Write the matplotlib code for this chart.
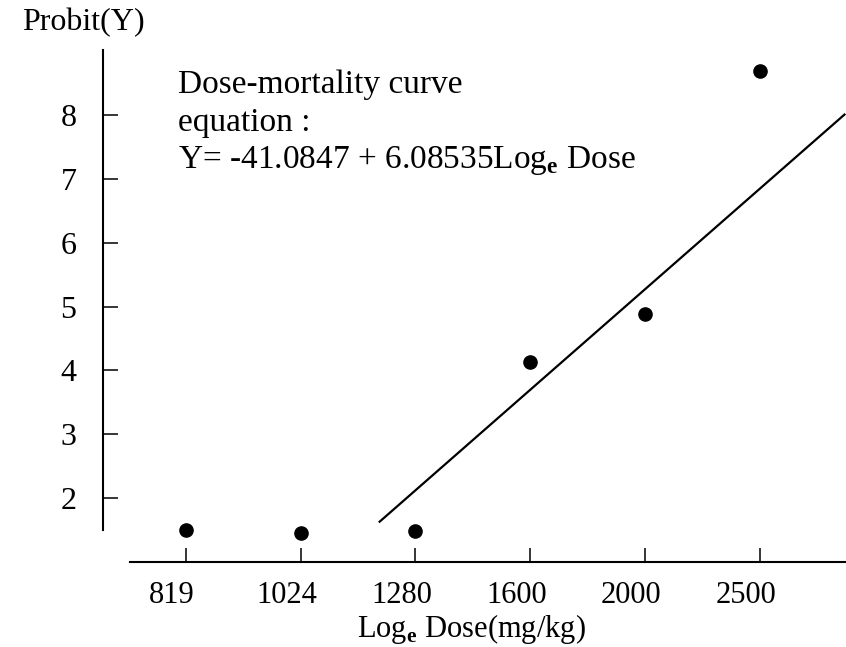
import matplotlib
matplotlib.use("Agg")
import matplotlib.pyplot as plt
from matplotlib.transforms import ScaledTranslation

plt.rcParams['font.family'] = ['Liberation Serif', 'DejaVu Serif']
plt.rcParams['mathtext.fontset'] = 'custom'
plt.rcParams['mathtext.rm'] = 'Liberation Serif'
plt.rcParams['mathtext.bf'] = 'Liberation Serif:bold'

# ---- data ----
doses = [819, 1024, 1280, 1600, 2000, 2500]
probits = [1.50, 1.46, 1.48, 4.14, 4.88, 8.69]
fit_x = [1192, 2950]
fit_y = [1.62, 8.02]
x_tick_labels = ["819", "1024", "1280", "1600", "2000", "2500"]
y_ticks = [2, 3, 4, 5, 6, 7, 8]
eq_lines = ["Dose-mortality curve", "equation :",
            r"Y= -41.0847 + 6.08535Log$_\mathbf{e}$ Dose"]

W, H = 846, 647
fig = plt.figure(figsize=(W / 100, H / 100), dpi=100)
ax = fig.add_axes([103 / W, (H - 562) / H, (W - 103) / W, (562 - 50) / H])

ax.set_xscale('log')
ax.plot(fit_x, fit_y, color='black', lw=1.6, solid_capstyle='butt')
ax.plot(doses, probits, 'o', color='black', ms=9.5)

ax.set_xlim(697.6, 2954)
ax.set_ylim(1, 9.02)

ax.spines['top'].set_visible(False)
ax.spines['right'].set_visible(False)
ax.spines['left'].set_bounds(1.5, 9.02)
ax.spines['bottom'].set_bounds(735, 2954)
ax.spines['left'].set_linewidth(1.5)
ax.spines['bottom'].set_linewidth(1.5)

ax.set_xticks(doses)
ax.set_xticklabels(x_tick_labels)
ax.xaxis.set_minor_locator(matplotlib.ticker.NullLocator())
ax.set_yticks(y_ticks)
ax.set_yticklabels([str(v) for v in y_ticks])

ax.tick_params(axis='x', direction='in', length=10, width=1.1, pad=14, labelsize=22)
ax.tick_params(axis='y', direction='in', length=10.8, width=1.1, pad=19, labelsize=23)

shift = ScaledTranslation(-14 / 100, 0, fig.dpi_scale_trans)
for lab in ax.get_xticklabels():
    lab.set_transform(lab.get_transform() + shift)

# y-axis title above the axis
fig.text(22 / W, 1 - 30 / H, "Probit(Y)", fontsize=23, ha='left', va='baseline')

# x-axis title
fig.text(357 / W, 1 - 637 / H, r"Log$_\mathbf{e}$ Dose(mg/kg)", fontsize=22,
         ha='left', va='baseline')

# equation annotation
for txt, base in zip(eq_lines, [93, 131, 168]):
    fig.text(178 / W, 1 - base / H, txt, fontsize=24, ha='left', va='baseline')

fig.savefig("out.png", dpi=100)
